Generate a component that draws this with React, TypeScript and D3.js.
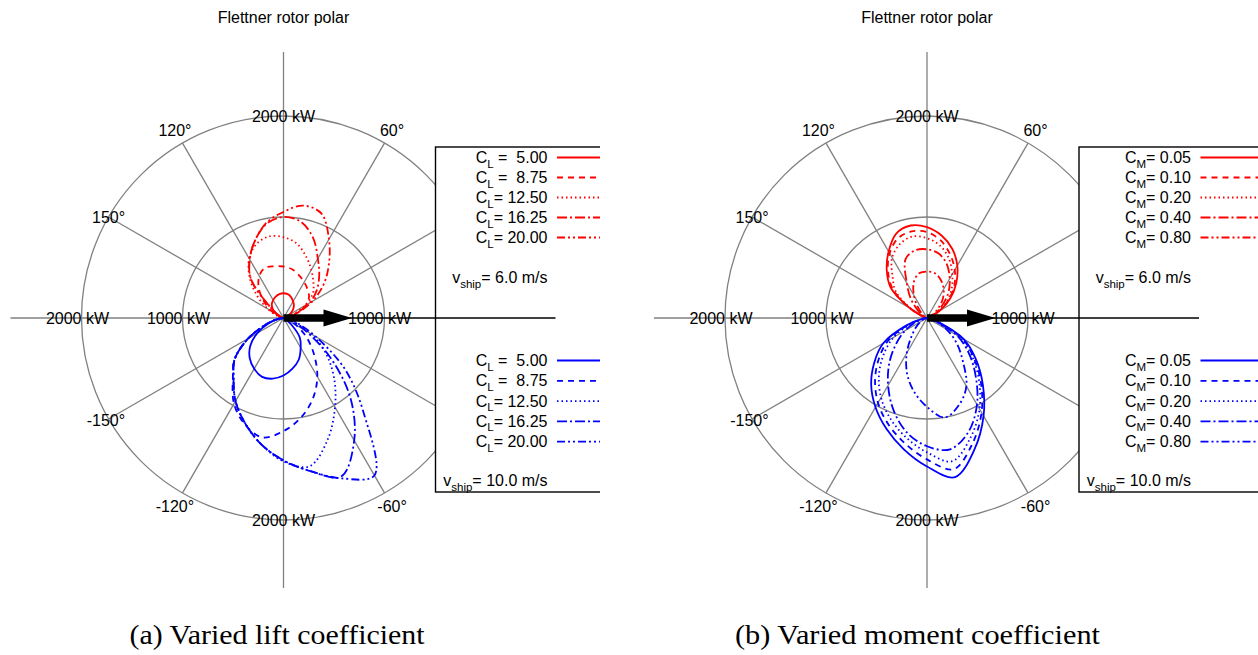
import * as d3 from "d3";

// wind angle (deg, ccw from ship heading) and rotor power (kW)
const anglesUpper = [0, 10, 20, 30, 40, 50, 60, 70, 80, 90, 100, 110, 120, 130, 140, 150, 160, 170, 180];
const anglesLower = [0, -10, -20, -30, -40, -50, -60, -70, -80, -90, -100, -110, -120, -130, -140, -150, -160, -170, -180];

// (a) varied lift coefficient, v_ship = 6 m/s
const cl500Slow = [0, 10, 30, 70, 120, 160, 190, 220, 240, 245, 240, 225, 205, 180, 140, 90, 40, 10, 0];
const cl875Slow = [0, 50, 150, 260, 330, 370, 410, 450, 490, 510, 520, 530, 480, 380, 250, 140, 60, 20, 0];
const cl1250Slow = [0, 30, 100, 240, 380, 460, 550, 650, 750, 800, 820, 780, 680, 520, 340, 180, 70, 20, 0];
const cl1625Slow = [0, 30, 120, 300, 430, 550, 680, 850, 970, 1000, 950, 820, 670, 500, 180, 60, 20, 0, 0];
const cl2000Slow = [0, 30, 140, 330, 520, 700, 900, 1100, 1130, 1050, 960, 820, 670, 500, 180, 60, 20, 0, 0];
// (a) v_ship = 10 m/s
const cl500Fast = [0, 0, 10, 20, 100, 250, 340, 440, 510, 570, 610, 620, 580, 520, 430, 300, 160, 60, 0];
const cl875Fast = [0, 10, 50, 150, 300, 470, 670, 850, 1000, 1120, 1200, 1120, 980, 780, 630, 400, 180, 60, 0];
const cl1250Fast = [0, 20, 80, 320, 550, 780, 1020, 1280, 1490, 1420, 1270, 1110, 950, 770, 630, 400, 180, 60, 0];
const cl1625Fast = [0, 30, 100, 250, 600, 1030, 1400, 1670, 1540, 1410, 1270, 1110, 950, 770, 630, 400, 180, 60, 0];
const cl2000Fast = [0, 40, 140, 370, 800, 1240, 1800, 1690, 1540, 1410, 1270, 1110, 950, 770, 630, 400, 180, 60, 0];

// (b) varied moment coefficient, v_ship = 6 m/s
const cm005Slow = [0, 10, 40, 150, 300, 450, 600, 730, 830, 900, 930, 890, 760, 620, 470, 200, 50, 10, 0];
const cm010Slow = [0, 10, 40, 140, 280, 420, 550, 670, 780, 850, 870, 840, 740, 600, 440, 200, 50, 10, 0];
const cm020Slow = [0, 10, 40, 130, 260, 380, 500, 630, 730, 790, 820, 780, 690, 530, 400, 180, 50, 10, 0];
const cm040Slow = [0, 10, 30, 100, 200, 330, 450, 570, 650, 680, 680, 620, 400, 250, 120, 50, 20, 0, 0];
const cm080Slow = [0, 10, 20, 60, 140, 240, 330, 400, 450, 460, 450, 380, 260, 140, 60, 30, 10, 0, 0];
// (b) v_ship = 10 m/s
const cm005Fast = [0, 20, 120, 420, 630, 860, 1120, 1380, 1600, 1470, 1320, 1170, 1020, 860, 680, 500, 220, 40, 0];
const cm010Fast = [0, 20, 110, 400, 600, 830, 1080, 1320, 1520, 1400, 1260, 1120, 970, 800, 620, 440, 200, 40, 0];
const cm020Fast = [0, 20, 100, 380, 580, 800, 1040, 1260, 1440, 1330, 1200, 1060, 910, 740, 560, 380, 170, 30, 0];
const cm040Fast = [0, 20, 90, 340, 540, 750, 990, 1200, 1320, 1270, 1150, 970, 770, 580, 400, 250, 120, 30, 0];
const cm080Fast = [0, 20, 80, 220, 380, 550, 780, 920, 1000, 880, 740, 580, 400, 240, 140, 80, 40, 10, 0];

const clValues = [" =  5.00", " =  8.75", "= 12.50", "= 16.25", "= 20.00"];
const cmValues = ["= 0.05", "= 0.10", "= 0.20", "= 0.40", "= 0.80"];
const speedLabels = ["= 6.0 m/s", "= 10.0 m/s"];

const gridAngles = [30, 60, 120, 150, -30, -60, -120, -150];
const angleLabels = ["30°", "60°", "120°", "150°", "-30°", "-60°", "-120°", "-150°"];
const labelRadii = [2050, 2150, 2150, 2000, 2050, 2150, 2150, 2030];
const ringTicks = [1000, 2000];

const dashes = ["none", "6,5", "1.5,3", "10,3,2,3", "8,3,2,3,2,3"];
const FONT = "'Liberation Sans', Arial, Helvetica, sans-serif";
const GRAY = "#808080";
const CY = 318;

const rScale = d3.scaleLinear().domain([0, 2000]).range([0, 202]);

function polar(deg: number, kw: number) {
  const a = (deg * Math.PI) / 180;
  return [rScale(kw) * Math.cos(a), -rScale(kw) * Math.sin(a)];
}

function lobe(angles: number[], values: number[]) {
  const line = d3
    .lineRadial<number>()
    .angle((_, i) => ((90 - angles[i]) * Math.PI) / 180)
    .radius((d) => rScale(d))
    .curve(d3.curveCatmullRom.alpha(0.5));
  return line(values) ?? "";
}

interface PanelProps {
  id: string;
  cx: number;
  clipLeft: number;
  clipRight: number;
  slow: number[][];
  fast: number[][];
  sub: string;
  values: string[];
}

function Panel({ id, cx, clipLeft, clipRight, slow, fast, sub, values }: PanelProps) {
  const legendLeft = cx + 152;
  const textRight = cx + 264;
  const sampleX = cx + 273.5;
  const lineEnd = cx + 272;

  const legendRows = (color: string, y0: number, step: number) =>
    values.map((v, i) => (
      <g key={color + i}>
        <text x={textRight} y={y0 + i * step} textAnchor="end" fontSize={16} style={{ whiteSpace: "pre" }}>
          C
          <tspan dy={4.5} fontSize={11.5}>
            {sub}
          </tspan>
          <tspan dy={-4.5}>{v}</tspan>
        </text>
        <line
          x1={sampleX}
          x2={sampleX + 60}
          y1={y0 + i * step - 5.5}
          y2={y0 + i * step - 5.5}
          stroke={color}
          strokeWidth={1.8}
          strokeDasharray={dashes[i]}
        />
      </g>
    ));

  const speedText = (x: number, y: number, label: string, anchor: string) => (
    <text x={x} y={y} textAnchor={anchor} fontSize={16} style={{ whiteSpace: "pre" }}>
      v
      <tspan dy={4.5} fontSize={11.5}>
        ship
      </tspan>
      <tspan dy={-4.5}>{label}</tspan>
    </text>
  );

  return (
    <g clipPath={`url(#${id})`} fontFamily={FONT}>
      <defs>
        <clipPath id={id}>
          <rect x={clipLeft} y={0} width={clipRight - clipLeft} height={600} />
        </clipPath>
      </defs>
      <text x={cx} y={23} textAnchor="middle" fontSize={16}>
        Flettner rotor polar
      </text>

      {/* grid */}
      {ringTicks.map((t) => (
        <circle key={t} cx={cx} cy={CY} r={rScale(t)} fill="none" stroke={GRAY} strokeWidth={1.3} />
      ))}
      {gridAngles.map((a) => {
        const [x, y] = polar(a, 2000);
        return <line key={a} x1={cx} y1={CY} x2={cx + x} y2={CY + y} stroke={GRAY} strokeWidth={1.3} />;
      })}
      <line x1={cx} x2={cx} y1={CY - 266} y2={CY + 270} stroke={GRAY} strokeWidth={1.3} />
      <line x1={cx - 273} x2={cx} y1={CY} y2={CY} stroke={GRAY} strokeWidth={1.3} />

      {angleLabels.map((lab, i) => {
        const [x, y] = polar(gridAngles[i], labelRadii[i]);
        return (
          <text key={lab} x={cx + x} y={CY + y} dy="0.35em" textAnchor="middle" fontSize={16}>
            {lab}
          </text>
        );
      })}

      {/* curves */}
      <g transform={`translate(${cx},${CY})`} fill="none" strokeWidth={1.8}>
        {slow.map((s, i) => (
          <path key={"s" + i} d={lobe(anglesUpper, s)} stroke="#ff0000" strokeDasharray={dashes[i]} />
        ))}
        {fast.map((s, i) => (
          <path key={"f" + i} d={lobe(anglesLower, s)} stroke="#0000ff" strokeDasharray={dashes[i]} />
        ))}
      </g>

      {/* ship heading arrow */}
      <path
        d={`M${cx},${CY - 3.8}L${cx + 40},${CY - 3.8}L${cx + 40},${CY - 8.5}L${cx + 68.5},${CY}L${cx + 40},${CY + 8.5}L${cx + 40},${CY + 3.8}L${cx},${CY + 3.8}Z`}
        fill="#000"
      />

      {/* radial tick labels */}
      <text x={cx} y={CY - rScale(2000)} dy="0.35em" textAnchor="middle" fontSize={16}>
        2000 kW
      </text>
      <text x={cx} y={CY + rScale(2000)} dy="0.35em" textAnchor="middle" fontSize={16}>
        2000 kW
      </text>
      <text x={cx - rScale(2000) - 4} y={CY} dy="0.35em" textAnchor="middle" fontSize={16}>
        2000 kW
      </text>
      <text x={cx - rScale(1000) - 4} y={CY} dy="0.35em" textAnchor="middle" fontSize={16}>
        1000 kW
      </text>
      <text x={cx + rScale(1000) - 5} y={CY} dy="0.35em" textAnchor="middle" fontSize={16}>
        1000 kW
      </text>

      {/* legend */}
      <rect x={legendLeft} y={147} width={400} height={345} fill="#fff" stroke="#000" strokeWidth={1.4} />
      <line x1={cx} x2={lineEnd} y1={CY} y2={CY} stroke="#000" strokeWidth={1.3} />
      {legendRows("#ff0000", 163, 20)}
      {speedText(textRight, 283, speedLabels[0], "end")}
      {legendRows("#0000ff", 366, 20.3)}
      {speedText(textRight, 486, speedLabels[1], "end")}
    </g>
  );
}

export default function App() {
  return (
    <svg
      width={1258}
      height={655}
      viewBox="0 0 1258 655"
      style={{ position: "absolute", left: 0, top: 0, background: "#fff" }}
    >
      <rect width={1258} height={655} fill="#fff" />
      <Panel
        id="clipA"
        cx={283.5}
        clipLeft={0}
        clipRight={600}
        slow={[cl500Slow, cl875Slow, cl1250Slow, cl1625Slow, cl2000Slow]}
        fast={[cl500Fast, cl875Fast, cl1250Fast, cl1625Fast, cl2000Fast]}
        sub="L"
        values={clValues}
      />
      <Panel
        id="clipB"
        cx={927}
        clipLeft={640}
        clipRight={1258}
        slow={[cm005Slow, cm010Slow, cm020Slow, cm040Slow, cm080Slow]}
        fast={[cm005Fast, cm010Fast, cm020Fast, cm040Fast, cm080Fast]}
        sub="M"
        values={cmValues}
      />
      <text
        x={277}
        y={644}
        textAnchor="middle"
        fontSize={27}
        fontFamily="'Liberation Serif', serif"
        textLength={295}
        lengthAdjust="spacingAndGlyphs"
      >
        (a) Varied lift coefficient
      </text>
      <text
        x={917.5}
        y={644}
        textAnchor="middle"
        fontSize={27}
        fontFamily="'Liberation Serif', serif"
        textLength={365}
        lengthAdjust="spacingAndGlyphs"
      >
        (b) Varied moment coefficient
      </text>
    </svg>
  );
}
